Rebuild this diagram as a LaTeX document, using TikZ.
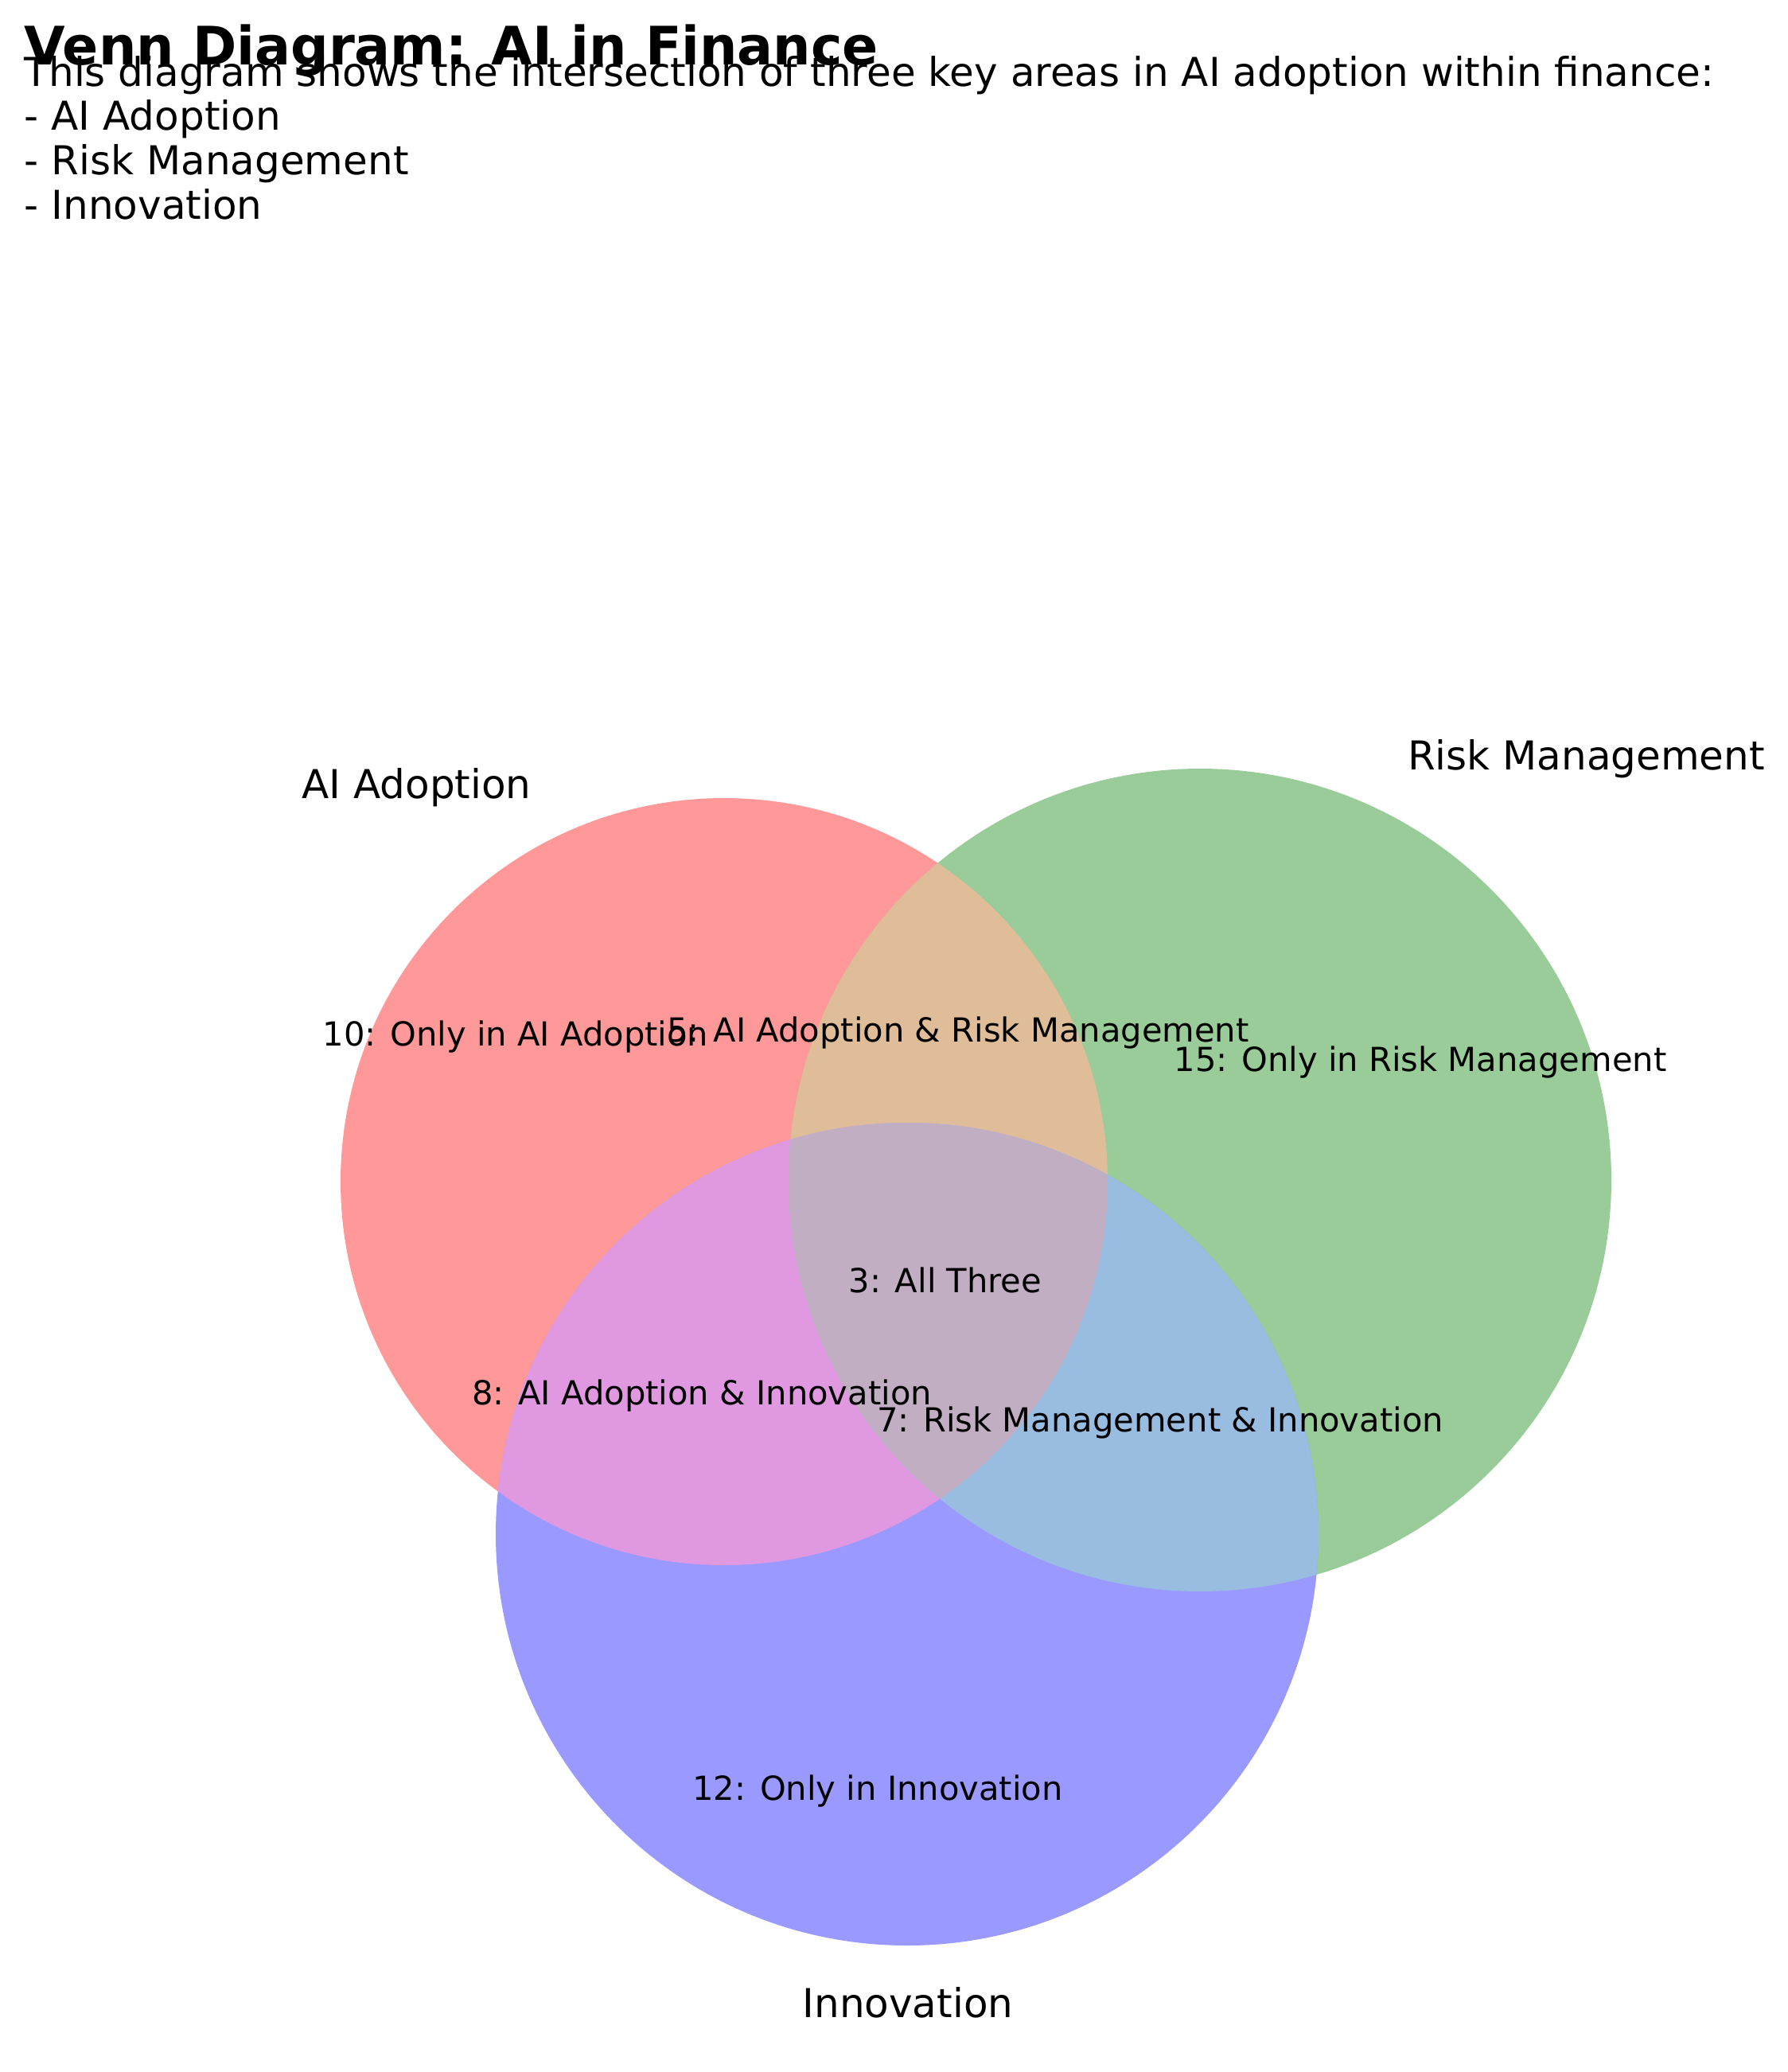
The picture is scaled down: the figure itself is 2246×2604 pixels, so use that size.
\documentclass[tikz,border=0pt]{standalone}
\usepackage{fontspec}
\setmainfont{DejaVu Sans}
\definecolor{cR}{RGB}{255,153,153}
\definecolor{cG}{RGB}{153,204,153}
\definecolor{cB}{RGB}{153,153,255}
\definecolor{cRG}{RGB}{224,189,153}
\definecolor{cRB}{RGB}{224,153,224}
\definecolor{cGB}{RGB}{153,189,224}
\definecolor{cRGB}{RGB}{194,174,194}
\begin{document}
\begin{tikzpicture}[x=0.24pt,y=-0.24pt,
  titletext/.style={anchor=base west, inner sep=0pt, font=\fontsize{16}{19}\selectfont\bfseries},
  subtext/.style={anchor=base west, inner sep=0pt, font=\fontsize{12}{14}\selectfont},
  setlabel/.style={anchor=base, inner sep=0pt, font=\fontsize{12}{14}\selectfont},
  reglabel/.style={anchor=base, inner sep=0pt, font=\fontsize{10}{12}\selectfont}]
\useasboundingbox[fill=white] (0,0) rectangle (2246,2604);
\coordinate (cA) at (910,1485);
\coordinate (cRM) at (1508,1483);
\coordinate (cI) at (1140,1928);
\def\rA{115.68pt}
\def\rB{124.08pt}
% single sets
\fill[cR] (cA) circle[radius=\rA];
\fill[cG] (cRM) circle[radius=\rB];
\fill[cB] (cI) circle[radius=\rB];
% pairwise
\begin{scope}\clip (cA) circle[radius=\rA]; \fill[cRG] (cRM) circle[radius=\rB];\end{scope}
\begin{scope}\clip (cA) circle[radius=\rA]; \fill[cRB] (cI) circle[radius=\rB];\end{scope}
\begin{scope}\clip (cRM) circle[radius=\rB]; \fill[cGB] (cI) circle[radius=\rB];\end{scope}
% triple
\begin{scope}\clip (cA) circle[radius=\rA]; \clip (cRM) circle[radius=\rB]; \fill[cRGB] (cI) circle[radius=\rB];\end{scope}
% set labels
\node[setlabel] (lA) at (523.5,1003) {AI Adoption};
\node[setlabel] (lRM) at (1993.5,967) {Risk Management};
\node[setlabel] (lI) at (1141,2535) {Innovation};
% region labels
\node[reglabel] (r100) at (648,1314) {10: Only in AI Adoption};
\node[reglabel] (r110) at (1204,1309) {5: AI Adoption \& Risk Management};
\node[reglabel] (r010) at (1785,1346) {15: Only in Risk Management};
\node[reglabel] (r111) at (1188,1624) {3: All Three};
\node[reglabel] (r101) at (882,1765) {8: AI Adoption \& Innovation};
\node[reglabel] (r011) at (1458,1799) {7: Risk Management \& Innovation};
\node[reglabel] (r001) at (1103,2262) {12: Only in Innovation};
% title and description
\node[titletext] (title) at (30,81) {Venn Diagram: AI in Finance};
\node[subtext] (d1) at (30,108) {This diagram shows the intersection of three key areas in AI adoption within finance:};
\node[subtext] (d2) at (30,163.7) {- AI Adoption};
\node[subtext] (d3) at (30,219.4) {- Risk Management};
\node[subtext] (d4) at (30,275.1) {- Innovation};
\end{tikzpicture}
\end{document}
